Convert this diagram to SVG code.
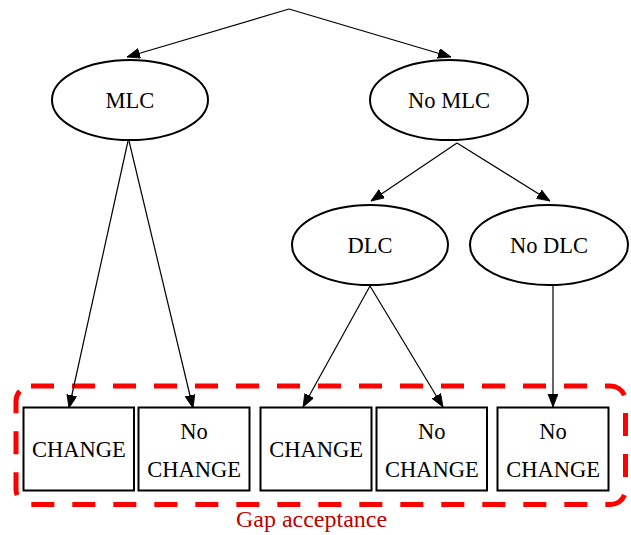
<svg xmlns="http://www.w3.org/2000/svg" width="631" height="535" viewBox="0 0 631 535">
<style>
.node ellipse, .node rect { fill: none; stroke: #000; stroke-width: 2; }
.node text { font-family: "Liberation Serif", "Times New Roman", serif; font-size: 22.5px; fill: #000; text-anchor: middle; }
.edges line { stroke: #000; stroke-width: 1.2; marker-end: url(#arrow); }
.cluster rect { fill: none; stroke: #ff0000; stroke-width: 5; stroke-dasharray: 23 18; }
.cluster text { font-family: "Liberation Serif", "Times New Roman", serif; font-size: 24px; fill: #c00000; text-anchor: middle; }
</style>
<defs>
<marker id="arrow" markerUnits="userSpaceOnUse" markerWidth="15" markerHeight="12" refX="13" refY="5" orient="auto" viewBox="0 0 15 12">
<path d="M0,0 L13,5 L0,10 z" fill="#000" stroke="#000" stroke-width="0.8"/>
</marker>
</defs>
<g id="cluster-gap" class="cluster">
<rect x="16" y="386" width="609.5" height="118.5" rx="15" ry="15"/>
<text x="311.5" y="527">Gap acceptance</text>
</g>
<g id="edges" class="edges">
<line x1="289" y1="9" x2="127" y2="57"/>
<line x1="289" y1="9" x2="451" y2="57"/>
<line x1="128" y1="141" x2="69" y2="408"/>
<line x1="129" y1="141" x2="193" y2="408"/>
<line x1="457" y1="143" x2="371" y2="201"/>
<line x1="457" y1="143" x2="550" y2="201"/>
<line x1="370" y1="286" x2="303" y2="407"/>
<line x1="370" y1="286" x2="443" y2="407"/>
<line x1="553" y1="286" x2="553" y2="407"/>
</g>
<g id="mlc" class="node">
<ellipse cx="130" cy="100" rx="78" ry="40"/>
<text x="130" y="108.3">MLC</text>
</g>
<g id="nomlc" class="node">
<ellipse cx="449" cy="100" rx="79" ry="40"/>
<text x="449" y="108.3">No MLC</text>
</g>
<g id="dlc" class="node">
<ellipse cx="370" cy="245" rx="78" ry="40"/>
<text x="370" y="253.3">DLC</text>
</g>
<g id="nodlc" class="node">
<ellipse cx="549" cy="245" rx="79" ry="40"/>
<text x="549" y="253.3">No DLC</text>
</g>
<g id="box1" class="node">
<rect x="23.5" y="407.5" width="110.5" height="83"/>
<text x="78.75" y="456.7">CHANGE</text>
</g>
<g id="box2" class="node">
<rect x="138.5" y="407.5" width="111" height="83"/>
<text x="194" y="438.5">No</text>
<text x="194" y="476.7">CHANGE</text>
</g>
<g id="box3" class="node">
<rect x="260.5" y="407.5" width="111" height="83"/>
<text x="316" y="456.7">CHANGE</text>
</g>
<g id="box4" class="node">
<rect x="376.5" y="407.5" width="110.5" height="83"/>
<text x="431.75" y="438.5">No</text>
<text x="431.75" y="476.7">CHANGE</text>
</g>
<g id="box5" class="node">
<rect x="497.5" y="407.5" width="111" height="83"/>
<text x="553" y="438.5">No</text>
<text x="553" y="476.7">CHANGE</text>
</g>
</svg>
